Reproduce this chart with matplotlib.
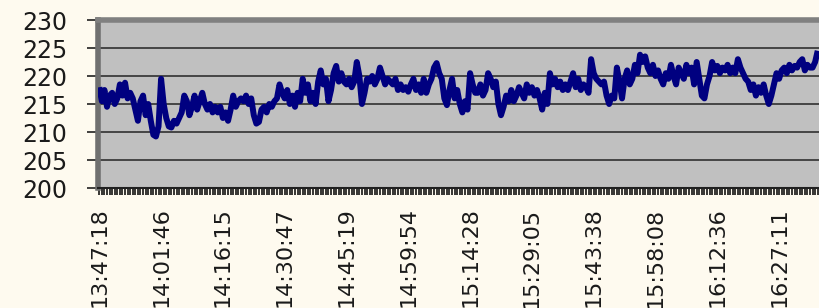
import matplotlib
matplotlib.use("Agg")
import matplotlib.pyplot as plt

# values (one per category, left to right)
values = [
    218.0, 215.5,
    217.5, 214.5, 216.5,
    217.0, 215.0, 216.0,
    218.5, 216.5, 218.8, 216.0,
    217.0, 216.0,
    214.0, 212.0,
    215.5, 216.5,
    213.0, 215.0,
    212.0, 209.5, 209.2, 211.0,
    219.5, 215.0, 212.5,
    211.0, 210.8, 212.0,
    211.5, 212.5, 213.5, 216.5,
    215.5, 213.0, 214.5,
    216.5, 214.0, 215.5, 217.0, 215.0,
    214.0, 215.0, 213.5, 214.5, 213.5,
    214.5, 212.5, 213.5, 212.0, 214.0,
    216.5, 214.5, 215.5, 216.0,
    215.5, 216.5, 215.0, 216.0,
    213.0, 211.5, 211.8, 214.0,
    214.5, 213.5, 215.0, 214.5, 215.5,
    216.0, 218.5, 217.0, 216.0, 217.5,
    215.0, 216.5, 214.5, 217.0, 215.5,
    219.5, 217.0, 218.5,
    215.5, 217.0, 215.0,
    219.0, 221.0, 218.5, 219.5,
    215.5, 217.5,
    220.5, 221.8, 219.0, 220.5, 219.0,
    218.5, 219.5, 218.0, 219.0,
    222.5, 220.0,
    215.0, 217.0, 219.5,
    219.0, 220.0, 218.5, 219.5,
    221.5, 220.0, 218.5, 219.5,
    219.0, 218.5, 219.5,
    217.5, 218.5, 217.5, 218.0, 217.2, 218.5,
    219.5, 217.5, 218.5, 217.0,
    219.5, 217.0, 218.5, 219.5,
    221.5, 222.3, 220.5, 219.5,
    216.0, 214.8, 217.5,
    219.5, 216.0, 217.5,
    215.0, 213.5, 215.5, 214.0,
    220.5, 218.5, 217.0,
    217.0, 218.5, 216.5, 217.5,
    220.5, 219.5, 218.0, 219.0,
    215.0, 213.0, 214.5, 216.5, 215.5,
    217.5, 215.5, 216.5, 218.0, 217.0, 216.0,
    218.5, 217.0, 218.0, 216.5, 217.5,
    216.0, 214.0, 217.0, 215.0,
    220.5, 218.5, 219.5, 218.0,
    219.0, 217.5, 218.5, 217.5, 219.0,
    220.5, 218.0, 219.5, 217.5, 218.5,
    218.0, 217.0,
    223.0, 220.5, 219.5,
    219.0, 218.5, 219.0,
    216.5, 215.0, 216.5,
    216.0, 221.5, 219.0, 216.0,
    219.5, 221.0, 218.5, 219.5,
    222.0, 220.5, 223.8, 222.5, 223.5,
    221.5, 220.5, 222.0, 220.0, 221.0,
    219.5, 218.5, 220.5, 219.5,
    222.0, 220.0, 218.5, 221.5, 220.5, 219.5,
    222.0, 220.5, 221.5, 218.5, 222.5,
    219.5, 216.5, 216.0, 218.5, 220.0,
    222.5, 221.0, 221.8, 220.5, 221.5,
    221.0, 222.0, 220.5, 221.5, 220.5,
    223.0, 221.5, 220.5, 219.5,
    219.0, 217.5, 218.5, 216.5,
    218.0, 217.0, 218.5, 216.5,
    215.0, 216.5, 218.5,
    220.5, 219.5, 221.0,
    221.5, 220.5, 222.0, 221.0, 221.8, 221.5,
    222.5, 223.0, 221.0, 222.0, 221.5,
    221.5, 222.5, 224.5,
]

tick_labels = ["13:47:18", "14:01:46", "14:16:15", "14:30:47", "14:45:19",
               "14:59:54", "15:14:28", "15:29:05", "15:43:38", "15:58:08",
               "16:12:36", "16:27:11"]
label_step = 24
y_ticks = [200, 205, 210, 215, 220, 225, 230]

W, H = 819, 308
fig = plt.figure(figsize=(W / 100, H / 100), dpi=100)
fig.patch.set_facecolor("#FEFAEF")
ax = fig.add_axes([98 / W, (H - 188) / H, (W - 98) / W, (188 - 20) / H])
ax.set_facecolor("#C0C0C0")

n = len(values)
x = list(range(n))
ax.plot(x, values, color="#000080", lw=4.3, solid_joinstyle="round",
        solid_capstyle="butt", zorder=3)

ax.set_xlim(-0.5, n - 0.5)
ax.set_ylim(200, 230)
ax.set_yticks(y_ticks)
ax.set_yticklabels([str(v) for v in y_ticks], fontsize=17, family="DejaVu Sans",
                   color="#1a1a1a")
ax.yaxis.grid(True, color="#303030", lw=1.2, zorder=1)
ax.set_axisbelow(True)

ax.set_xticks(list(range(n)), minor=True)
ax.set_xticks([i * label_step for i in range(len(tick_labels))])
ax.set_xticklabels(tick_labels, rotation=90, fontsize=16, family="DejaVu Sans",
                   color="#1a1a1a", va="top", ha="center")
ax.tick_params(axis="x", which="both", direction="out", length=5, width=1.1,
               color="#000000", pad=9)
ax.tick_params(axis="y", direction="out", length=8, width=1.2, color="#202020", pad=14)

ax.spines["right"].set_visible(False)
ax.spines["top"].set_color("#808080")
ax.spines["top"].set_linewidth(4)
ax.spines["left"].set_color("#707070")
ax.spines["left"].set_linewidth(4)
ax.spines["bottom"].set_color("#202020")
ax.spines["bottom"].set_linewidth(1.5)

fig.savefig("out.png", dpi=100, facecolor=fig.get_facecolor())
